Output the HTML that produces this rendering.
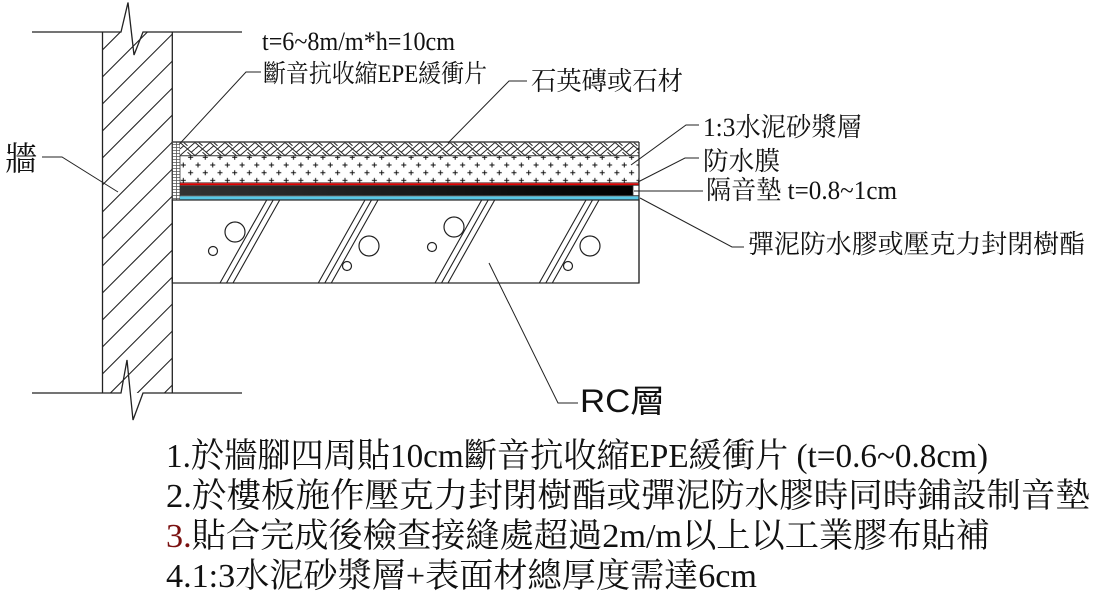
<!DOCTYPE html>
<html><head><meta charset="utf-8">
<style>
html,body{margin:0;padding:0;background:#fff;}
svg{display:block;}
.s{font-family:"Liberation Serif","Noto Serif CJK SC","Noto Sans CJK TC",serif;fill:#111;}
.a{font-family:"Liberation Sans","Noto Sans CJK TC",sans-serif;fill:#111;}
</style></head><body>
<svg width="1096" height="601" viewBox="0 0 1096 601" xmlns="http://www.w3.org/2000/svg">
<defs>
<clipPath id="wc"><rect x="102.5" y="32" width="69.8" height="361"/></clipPath>
<pattern id="hb" x="180" y="142.5" width="15" height="13" patternUnits="userSpaceOnUse">
<rect width="15" height="13" fill="#fff"/>
<path d="M0,0 L7.5,6.5 L15,0 M0,13 L7.5,6.5 L15,13 M0,6.5 L3.75,3.25 M15,6.5 L11.25,9.75 M3.75,0 L7.5,3.2 M11.25,13 L7.5,9.8" stroke="#222" stroke-width="1" fill="none"/>
</pattern>
<pattern id="pl" x="179.6" y="153.45" width="14.7" height="15.4" patternUnits="userSpaceOnUse">
<path d="M1.2,11.55 H6.2 M3.7,9.05 V14.05 M8.5,3.85 H13.5 M11,1.35 V6.35" stroke="#111" stroke-width="1"/>
</pattern>
<pattern id="ep" x="172" y="142" width="4" height="3" patternUnits="userSpaceOnUse">
<rect width="4" height="3" fill="#fff"/>
<path d="M0,2.5 H4 M0.5,0 V3" stroke="#555" stroke-width="0.8"/>
</pattern>
<linearGradient id="bk" x1="180" y1="0" x2="639" y2="0" gradientUnits="userSpaceOnUse">
<stop offset="0" stop-color="#333"/><stop offset="1" stop-color="#000"/>
</linearGradient>
</defs>

<!-- wall hatch -->
<g clip-path="url(#wc)" stroke="#222" stroke-width="1.1">
<path d="M102.5,49.9 L172.3,-19.9 M102.5,76.9 L172.3,7.1 M102.5,103.9 L172.3,34.1 M102.5,130.9 L172.3,61.1 M102.5,157.9 L172.3,88.1 M102.5,184.9 L172.3,115.1 M102.5,211.9 L172.3,142.1 M102.5,238.9 L172.3,169.1 M102.5,265.9 L172.3,196.1 M102.5,292.9 L172.3,223.1 M102.5,319.9 L172.3,250.1 M102.5,346.9 L172.3,277.1 M102.5,373.9 L172.3,304.1 M102.5,400.9 L172.3,331.1 M102.5,427.9 L172.3,358.1 M102.5,454.9 L172.3,385.1"/>
</g>
<g stroke="#222" stroke-width="1.3" fill="none">
<line x1="102.5" y1="32" x2="102.5" y2="393"/>
<line x1="172.3" y1="32" x2="172.3" y2="393"/>
<polyline points="32,32 121,32 128,2.5 134,55 143,32 242,32"/>
<polyline points="32,393 121,393 127,360 133,420 143,393 242,393"/>
</g>

<!-- layers -->
<rect x="172.3" y="142" width="7.7" height="58" fill="url(#ep)" stroke="#333" stroke-width="0.8"/>
<rect x="180" y="142" width="459" height="13.5" fill="url(#hb)"/>
<rect x="180" y="156" width="459" height="27" fill="url(#pl)"/>
<line x1="172" y1="142" x2="639" y2="142" stroke="#444" stroke-width="1.5"/>
<line x1="180" y1="155.8" x2="639" y2="155.8" stroke="#333" stroke-width="1"/>
<line x1="180" y1="182.9" x2="639" y2="182.9" stroke="#300" stroke-width="0.8"/>
<rect x="180" y="183.3" width="459" height="2" fill="#dc0000"/>
<rect x="180" y="185.3" width="453" height="10.3" fill="url(#bk)"/>
<rect x="633" y="185.3" width="6" height="10.3" fill="#fff" stroke="#333" stroke-width="0.8"/>
<line x1="180" y1="196" x2="639" y2="196" stroke="#444" stroke-width="0.8"/>
<rect x="180" y="196.4" width="459" height="3.2" fill="#58c8e6"/>

<!-- slab -->
<g stroke="#222" stroke-width="1.2" fill="none">
<rect x="172.3" y="200" width="466.7" height="83"/>
<line x1="639" y1="142" x2="639" y2="283"/>
<path d="M220,283 L266.7,200 M226.5,283 L273.2,200 M233,283 L279.7,200
M318.3,283 L365,200 M324.8,283 L371.5,200 M331.3,283 L378,200
M435,283 L481.7,200 M441.5,283 L488.2,200 M448,283 L494.7,200
M539.3,283 L586,200 M545.8,283 L592.5,200 M552.3,283 L599,200" stroke-width="1.1"/>
<circle cx="235" cy="232" r="10"/>
<circle cx="213" cy="251" r="4.5"/>
<circle cx="369" cy="246" r="10"/>
<circle cx="347" cy="266" r="4.5"/>
<circle cx="454" cy="227" r="10"/>
<circle cx="432" cy="247" r="4.5"/>
<circle cx="590" cy="246" r="10"/>
<circle cx="568" cy="266" r="4.5"/>
</g>

<!-- leaders -->
<g stroke="#222" stroke-width="1" fill="none">
<path d="M42,157 H62 L118,192"/>
<path d="M179.5,144 L246,72 H261"/>
<path d="M448,143 L509,81 H527"/>
<path d="M631,165 L686,125 H699"/>
<path d="M638,182 L685,158 H699"/>
<path d="M634,191 H703"/>
<path d="M640,198 L732,247 H744"/>
<path d="M489,263 L558,403 H578"/>
</g>

<!-- labels -->
<text class="s" x="5" y="170" font-size="33" textLength="32" lengthAdjust="spacingAndGlyphs">牆</text>
<text class="s" x="262" y="50" font-size="26" textLength="193" lengthAdjust="spacingAndGlyphs">t=6~8m/m*h=10cm</text>
<text class="s" x="263" y="82" font-size="25" textLength="224" lengthAdjust="spacingAndGlyphs">斷音抗收縮EPE緩衝片</text>
<text class="s" x="531" y="90" font-size="26" textLength="152" lengthAdjust="spacingAndGlyphs">石英磚或石材</text>
<text class="s" x="703" y="136" font-size="26" textLength="159" lengthAdjust="spacingAndGlyphs">1:3水泥砂漿層</text>
<text class="s" x="703" y="170" font-size="26" textLength="77" lengthAdjust="spacingAndGlyphs">防水膜</text>
<text class="s" x="706" y="199" font-size="26" textLength="191" lengthAdjust="spacingAndGlyphs">隔音墊 t=0.8~1cm</text>
<text class="s" x="748" y="253" font-size="26" textLength="337" lengthAdjust="spacingAndGlyphs">彈泥防水膠或壓克力封閉樹酯</text>
<text class="a" x="580" y="412" font-size="32" textLength="85" lengthAdjust="spacingAndGlyphs">RC層</text>

<!-- notes -->
<text class="s" x="166" y="467" font-size="34" textLength="822" lengthAdjust="spacingAndGlyphs">1.於牆腳四周貼10cm斷音抗收縮EPE緩衝片 (t=0.6~0.8cm)</text>
<text class="s" x="166" y="507" font-size="34" textLength="924" lengthAdjust="spacingAndGlyphs">2.於樓板施作壓克力封閉樹酯或彈泥防水膠時同時鋪設制音墊</text>
<text class="s" x="166" y="547" font-size="34" textLength="824" lengthAdjust="spacingAndGlyphs"><tspan fill="#7a1010">3.</tspan>貼合完成後檢查接縫處超過2m/m以上以工業膠布貼補</text>
<text class="s" x="166" y="587" font-size="34" textLength="591" lengthAdjust="spacingAndGlyphs">4.1:3水泥砂漿層+表面材總厚度需達6cm</text>
</svg>
</body></html>
